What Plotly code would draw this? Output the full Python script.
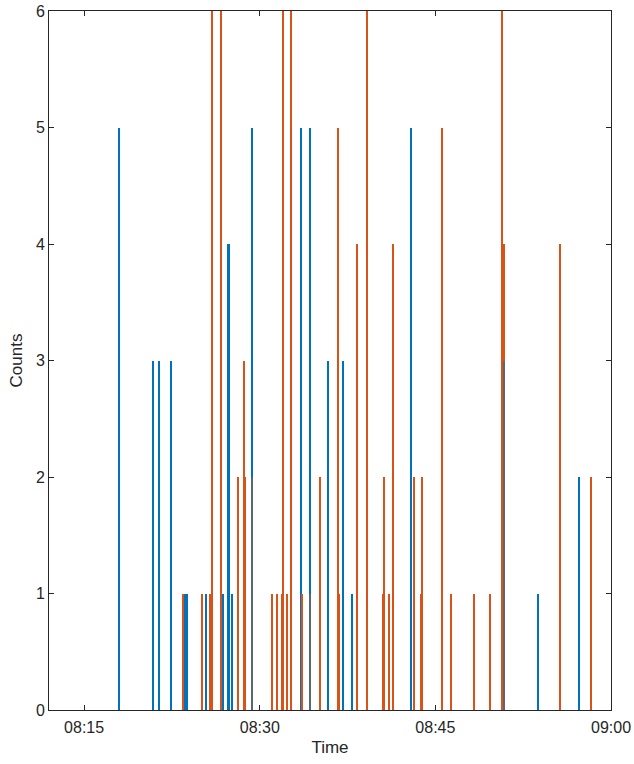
import plotly.graph_objects as go

DAY = "2024-01-01 "

blue_times = ["08:18:01", "08:20:52", "08:21:26", "08:22:28", "08:23:37", "08:23:49",
              "08:25:27", "08:26:52", "08:27:21", "08:27:40", "08:29:21", "08:33:33",
              "08:34:21", "08:35:53", "08:37:09", "08:37:56", "08:42:57", "08:50:51",
              "08:53:45", "08:57:15"]
blue_counts = [5, 3, 3, 3, 1, 1, 1, 1, 4, 1, 5, 5, 5, 3, 3, 1, 5, 3, 1, 2]

orange_times = ["08:23:27", "08:25:06", "08:25:46", "08:25:55", "08:26:42", "08:28:09",
                "08:28:41", "08:28:47", "08:29:21", "08:31:05", "08:31:30", "08:31:53",
                "08:31:59", "08:32:21", "08:32:42", "08:33:39", "08:34:21", "08:35:12",
                "08:36:41", "08:36:47", "08:38:18", "08:39:11", "08:40:32", "08:40:39",
                "08:41:02", "08:41:25", "08:43:14", "08:43:47", "08:43:53", "08:45:37",
                "08:46:19", "08:48:21", "08:49:43", "08:50:43", "08:50:51", "08:55:42",
                "08:58:19"]
orange_counts = [1, 1, 1, 6, 6, 2, 3, 2, 2, 1, 1, 1, 6, 1, 6, 1, 1, 2, 5, 1, 4, 6, 1, 2,
                 1, 4, 2, 1, 2, 5, 1, 1, 1, 6, 4, 4, 2]

x_ticks = ["08:15", "08:30", "08:45", "09:00"]
y_ticks = [0, 1, 2, 3, 4, 5, 6]
x_range = ["08:12", "09:00"]

BLUE = "#0072BD"
ORANGE = "#D95319"
MIX = "#57667B"
BAR_W = 8000  # ms

# overlaps (same bin in both series)
omap = dict(zip(orange_times, orange_counts))
ov_t = [t for t in blue_times if t in omap]
ov_c = [min(c, omap[t]) for t, c in zip(blue_times, blue_counts) if t in omap]

fig = go.Figure()
fig.add_trace(go.Bar(x=[DAY + t for t in blue_times], y=blue_counts, width=BAR_W,
                     marker=dict(color=BLUE, line=dict(width=0)), showlegend=False))
fig.add_trace(go.Bar(x=[DAY + t for t in orange_times], y=orange_counts, width=BAR_W,
                     marker=dict(color=ORANGE, line=dict(width=0)), showlegend=False))
fig.add_trace(go.Bar(x=[DAY + t for t in ov_t], y=ov_c, width=BAR_W,
                     marker=dict(color=MIX, line=dict(width=0)), showlegend=False))

tick_font = dict(family="Liberation Sans, Arial, sans-serif", size=16, color="#262626")
title_font = dict(family="Liberation Sans, Arial, sans-serif", size=17, color="#262626")

fig.update_layout(
    width=634, height=764,
    margin=dict(l=49, r=23, t=11, b=54),
    paper_bgcolor="white", plot_bgcolor="white",
    barmode="overlay", bargap=0,
    font=tick_font,
    xaxis=dict(
        type="date", automargin=False,
        range=[DAY + x_range[0], DAY + x_range[1]],
        tickvals=[DAY + t for t in x_ticks], ticktext=x_ticks,
        tickfont=tick_font, ticklabelstandoff=3,
        ticks="inside", ticklen=5, tickcolor="#262626", tickwidth=1,
        showline=True, linecolor="#262626", linewidth=1, mirror="ticks",
        showgrid=False, zeroline=False,
        title=dict(text="Time", font=title_font, standoff=5),
    ),
    yaxis=dict(
        range=[0, 6], tickvals=y_ticks, automargin=False,
        tickfont=tick_font,
        ticks="inside", ticklen=5, tickcolor="#262626", tickwidth=1,
        showline=True, linecolor="#262626", linewidth=1, mirror="ticks",
        showgrid=False, zeroline=False,
        title=dict(text="Counts", font=title_font, standoff=8),
    ),
)

fig.write_html("out.html")
